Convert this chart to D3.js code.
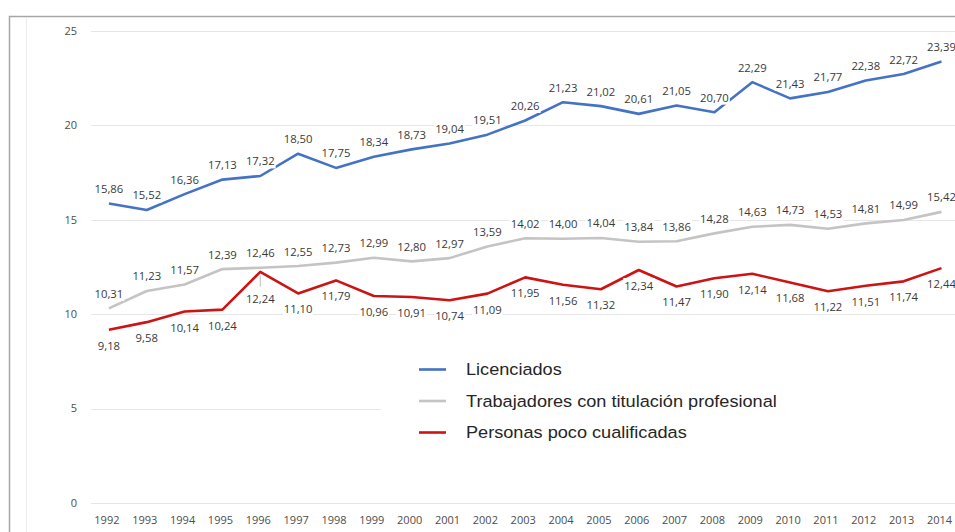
<!DOCTYPE html>
<html>
<head>
<meta charset="utf-8">
<title>Licenciados / titulación profesional / poco cualificadas</title>
<style>
  body { margin: 0; background: #fff; }
  .grid line { stroke: #e6e6e6; stroke-width: 1px; }
  .tick-label { font-family: "Open Sans", sans-serif; font-size: 11px; fill: #4d4d4d; }
  .data-label { font-family: "Open Sans", sans-serif; font-size: 11.3px; fill: #3a3a3a; }
  .legend text { font-family: "Liberation Sans", Arial, sans-serif; font-size: 16.5px; fill: #262626; }
  .series { fill: none; stroke-width: 2.6px; stroke-linejoin: round; }
</style>
</head>
<body>
<script src="https://cdn.jsdelivr.net/npm/d3@7"></script>
<script>
const years = ["1992","1993","1994","1995","1996","1997","1998","1999","2000","2001","2002","2003",
  "2004","2005","2006","2007","2008","2009","2010","2011","2012","2013","2014"];
const licenciados = [15.86,15.52,16.36,17.13,17.32,18.50,17.75,18.34,18.73,19.04,19.51,20.26,
  21.23,21.02,20.61,21.05,20.70,22.29,21.43,21.77,22.38,22.72,23.39];
const titulacion = [10.31,11.23,11.57,12.39,12.46,12.55,12.73,12.99,12.80,12.97,13.59,14.02,
  14.00,14.04,13.84,13.86,14.28,14.63,14.73,14.53,14.81,14.99,15.42];
const pocoCualif = [9.18,9.58,10.14,10.24,12.24,11.10,11.79,10.96,10.91,10.74,11.09,11.95,
  11.56,11.32,12.34,11.47,11.90,12.14,11.68,11.22,11.51,11.74,12.44];
const seriesNames = ["Licenciados", "Trabajadores con titulación profesional", "Personas poco cualificadas"];
const yTicks = [0, 5, 10, 15, 20, 25];

const width = 955, height = 532;
const colors = ["#4472c4", "#c4c4c4", "#cc1414"];

const svg = d3.select("body").append("svg")
  .attr("width", width)
  .attr("height", height);

// frame of the pasted chart
svg.append("path")
  .attr("d", "M9.5,532 V16.5 H955")
  .attr("fill", "none")
  .attr("stroke", "#a6a6a6")
  .attr("stroke-width", 1.5);
svg.append("line")
  .attr("x1", 26.5).attr("x2", 26.5).attr("y1", 17).attr("y2", 532)
  .attr("stroke", "#ececec");

const x = d3.scaleBand().domain(years).range([90, 960.4]);
const y = d3.scaleLinear().domain([0, 25]).range([503, 31]);
const cx = d => x(d) + x.bandwidth() / 2;

// gridlines
svg.append("g").attr("class", "grid")
  .selectAll("line")
  .data(yTicks)
  .join("line")
  .attr("x1", 91).attr("x2", 960)
  .attr("y1", d => Math.round(y(d)) + 0.5)
  .attr("y2", d => Math.round(y(d)) + 0.5);

// y labels
svg.append("g")
  .selectAll("text")
  .data(yTicks)
  .join("text")
  .attr("class", "tick-label")
  .attr("x", 77)
  .attr("y", d => y(d))
  .attr("dy", "0.35em")
  .attr("text-anchor", "end")
  .text(d => d);

// x labels
svg.append("g")
  .selectAll("text")
  .data(years)
  .join("text")
  .attr("class", "tick-label")
  .attr("x", d => cx(d) - 2)
  .attr("y", 524)
  .attr("text-anchor", "middle")
  .text(d => d);

const series = [licenciados, titulacion, pocoCualif];
const line = d3.line()
  .x((d, i) => cx(years[i]))
  .y(d => y(d));

svg.append("g")
  .selectAll("path")
  .data(series)
  .join("path")
  .attr("class", "series")
  .attr("stroke", (d, i) => colors[i])
  .attr("d", line);

const fmt = v => v.toFixed(2).replace(".", ",");

// leader line for the one label pushed further down
svg.append("line")
  .attr("x1", cx("1996")).attr("x2", cx("1996"))
  .attr("y1", y(12.24) + 4).attr("y2", y(12.24) + 15)
  .attr("stroke", "#bfbfbf");

// data labels
series.forEach((vals, s) => {
  const g = svg.append("g");
  vals.forEach((v, i) => {
    let ly;
    if (s < 2) ly = y(v) - 14.5;
    else ly = y(v) + (years[i] === "1996" ? 27 : 16);
    const t = g.append("text")
      .attr("class", "data-label")
      .attr("x", cx(years[i]))
      .attr("y", ly)
      .attr("dy", "0.35em")
      .attr("text-anchor", "middle")
      .text(fmt(v));
    const b = t.node().getBBox();
    g.insert("rect", "text")
      .attr("x", b.x - 1).attr("y", b.y)
      .attr("width", b.width + 2).attr("height", b.height)
      .attr("fill", "#fff");
  });
});

// legend
const legend = svg.append("g").attr("class", "legend");
legend.append("rect")
  .attr("x", 381).attr("y", 345)
  .attr("width", 580).attr("height", 120)
  .attr("fill", "#fff");
const items = legend.selectAll("g.item")
  .data(seriesNames)
  .join("g")
  .attr("class", "item")
  .attr("transform", (d, i) => `translate(0,${369.5 + i * 31.5})`);
items.append("line")
  .attr("x1", 419).attr("x2", 446)
  .attr("stroke", (d, i) => colors[i])
  .attr("stroke-width", 2.6);
items.append("text")
  .attr("transform", "translate(466,0) scale(1.1,1)")
  .attr("dy", "0.35em")
  .text(d => d);
</script>
</body>
</html>
